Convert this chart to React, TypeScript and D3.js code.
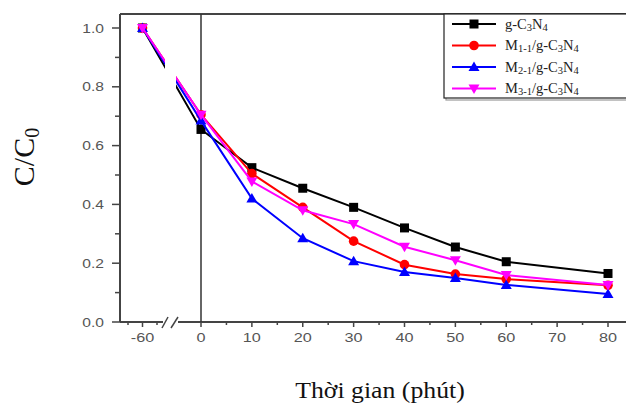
import React from "react";
import * as d3 from "d3";

// time (min), -60 = dark adsorption start
const times = [-60, 0, 10, 20, 30, 40, 50, 60, 80];
const gC3N4 = [1.0, 0.655, 0.525, 0.455, 0.39, 0.32, 0.255, 0.205, 0.165];
const M11 = [1.0, 0.705, 0.505, 0.39, 0.275, 0.195, 0.163, 0.146, 0.125];
const M21 = [1.0, 0.685, 0.42, 0.285, 0.207, 0.17, 0.15, 0.126, 0.095];
const M31 = [1.0, 0.705, 0.478, 0.38, 0.333, 0.256, 0.21, 0.16, 0.126];

const xMajor = [-60, 0, 10, 20, 30, 40, 50, 60, 70, 80];
const xMinor = [-65, -55, 5, 15, 25, 35, 45, 55, 65, 75];
const yMajor = [0, 0.2, 0.4, 0.6, 0.8, 1.0];
const yMinor = [0.1, 0.3, 0.5, 0.7, 0.9];

const series = [
  { name: ["g-C", "3", "N", "4"], sub: [false, true, false, true], values: gC3N4, color: "#000000", shape: "square" },
  { name: ["M", "1-1", "/g-C", "3", "N", "4"], sub: [false, true, false, true, false, true], values: M11, color: "#ff0000", shape: "circle" },
  { name: ["M", "2-1", "/g-C", "3", "N", "4"], sub: [false, true, false, true, false, true], values: M21, color: "#0000ff", shape: "up" },
  { name: ["M", "3-1", "/g-C", "3", "N", "4"], sub: [false, true, false, true, false, true], values: M31, color: "#ff00ff", shape: "down" },
];

const W = 626, H = 408;
const left = 120, top = 14, bottom = 322, right = 626;
const breakL = 165, breakR = 176;

function Marker({ shape, cx, cy, color }: any) {
  if (shape === "square") return <rect x={cx - 4.5} y={cy - 4.5} width={9} height={9} fill={color} />;
  if (shape === "circle") return <circle cx={cx} cy={cy} r={4.8} fill={color} />;
  if (shape === "up") return <path d={`M${cx},${cy - 5.5}L${cx + 5.5},${cy + 4}L${cx - 5.5},${cy + 4}Z`} fill={color} />;
  return <path d={`M${cx},${cy + 5.5}L${cx + 5.5},${cy - 4}L${cx - 5.5},${cy - 4}Z`} fill={color} />;
}

export default function App() {
  const xRight = d3.scaleLinear().domain([0, 80]).range([201, 608]);
  // broken axis: compressed left part around -60
  const x = d3.scaleLinear()
    .domain([-65, -55, -5, 80])
    .range([128, 157, xRight(-5), xRight(80)]);
  const y = d3.scaleLinear().domain([0, 1]).range([bottom, 28]);

  const line = d3.line<number>()
    .x((_, i) => x(times[i]))
    .y((d) => y(d));

  const tickFont = { fontFamily: "Liberation Sans, Arial, sans-serif", fontSize: 12.5, fill: "#555" };
  const axisColor = "#444";

  return (
    <svg width={W} height={H} style={{ position: "absolute", left: 0, top: 0, background: "#fff" }}>
      <defs>
        <clipPath id="brk">
          <rect x={left} y={0} width={breakL - left} height={H} />
          <rect x={breakR} y={0} width={right - breakR} height={H} />
        </clipPath>
      </defs>

      {/* frame */}
      <line x1={left} x2={right} y1={top} y2={top} stroke={axisColor} strokeWidth={2} />
      <line x1={left} x2={left} y1={top} y2={bottom} stroke={axisColor} strokeWidth={2} />
      <line x1={left} x2={163} y1={bottom} y2={bottom} stroke={axisColor} strokeWidth={2} />
      <line x1={178} x2={right} y1={bottom} y2={bottom} stroke={axisColor} strokeWidth={2} />
      <line x1={162} y1={328} x2={168} y2={317} stroke={axisColor} strokeWidth={1.5} />
      <line x1={171} y1={328} x2={178} y2={317} stroke={axisColor} strokeWidth={1.5} />
      <line x1={x(0)} x2={x(0)} y1={top} y2={bottom} stroke="#333" strokeWidth={1.5} />

      {/* y ticks */}
      {yMajor.map((v) => (
        <g key={"ym" + v}>
          <line x1={left - 8} x2={left} y1={y(v)} y2={y(v)} stroke={axisColor} strokeWidth={1.5} />
          <text transform={`translate(104,${y(v) + 4.5}) scale(1.25,1)`} textAnchor="end" {...tickFont}>
            {v.toFixed(1)}
          </text>
        </g>
      ))}
      {yMinor.map((v) => (
        <line key={"yn" + v} x1={left - 5} x2={left} y1={y(v)} y2={y(v)} stroke={axisColor} strokeWidth={1.5} />
      ))}

      {/* x ticks */}
      {xMajor.map((v) => (
        <g key={"xm" + v}>
          <line x1={x(v)} x2={x(v)} y1={bottom} y2={bottom + 5} stroke={axisColor} strokeWidth={1.5} />
          <text transform={`translate(${x(v)},${bottom + 20}) scale(1.3,1)`} textAnchor="middle" {...tickFont}>
            {v}
          </text>
        </g>
      ))}
      {xMinor.map((v) => (
        <line key={"xn" + v} x1={x(v)} x2={x(v)} y1={bottom} y2={bottom + 3} stroke={axisColor} strokeWidth={1.5} />
      ))}

      {/* series */}
      {series.map((s) => (
        <g key={s.color}>
          <path d={line(s.values) || ""} fill="none" stroke={s.color} strokeWidth={2} clipPath="url(#brk)" />
          {s.values.map((v, i) => (
            <Marker key={i} shape={s.shape} cx={x(times[i])} cy={y(v)} color={s.color} />
          ))}
        </g>
      ))}

      {/* legend */}
      <rect x={446} y={top + 1} width={185} height={85} fill="none" stroke="#999" strokeWidth={1.2} />
      <rect x={444} y={top} width={185} height={84} fill="#fff" stroke="#222" strokeWidth={1.2} />
      {series.map((s, i) => {
        const ly = 24 + i * 21.5;
        return (
          <g key={"lg" + i}>
            <line x1={452} x2={496} y1={ly} y2={ly} stroke={s.color} strokeWidth={2} />
            <Marker shape={s.shape} cx={474} cy={ly} color={s.color} />
            <text x={505} y={ly + 4.5} fontFamily="Liberation Serif, Times New Roman, serif" fontSize={14.5} fill="#222">
              {s.name.map((t, j) =>
                s.sub[j] ? (
                  <tspan key={j} fontSize={10.5} dy={2}>{t}</tspan>
                ) : (
                  <tspan key={j} dy={j > 0 && s.sub[j - 1] ? -2 : 0}>{t}</tspan>
                )
              )}
            </text>
          </g>
        );
      })}

      {/* axis titles */}
      <text transform="translate(34,157) rotate(-90)" textAnchor="middle"
        fontFamily="Liberation Serif, Times New Roman, serif" fontSize={30} fill="#111">
        C/C<tspan fontSize={20} dy={5}>0</tspan>
      </text>
      <text transform="translate(380,398) scale(1.12,1)" textAnchor="middle"
        fontFamily="Liberation Serif, Times New Roman, serif" fontSize={23} fill="#111">
        Thời gian (phút)
      </text>
    </svg>
  );
}
